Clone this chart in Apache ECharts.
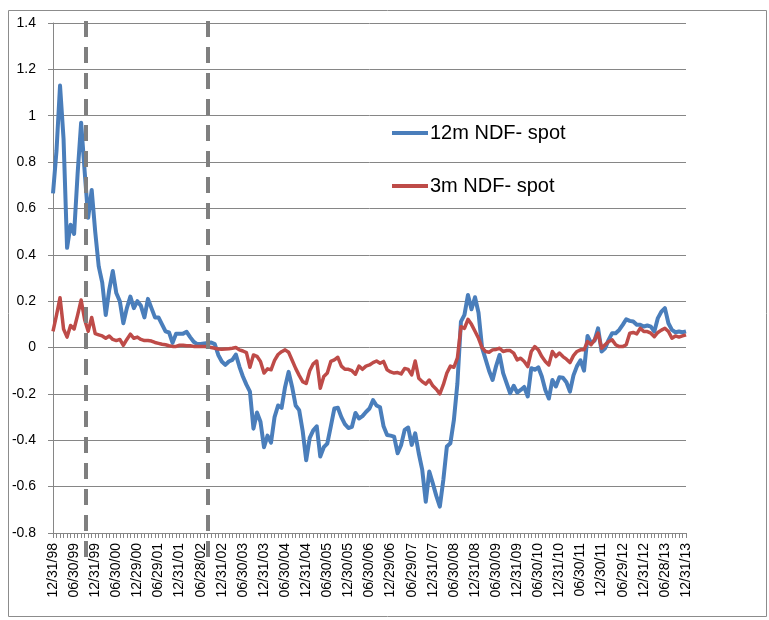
<!DOCTYPE html>
<html>
<head>
<meta charset="utf-8">
<script src="https://cdn.jsdelivr.net/npm/echarts@6/dist/echarts.min.js"></script>
<style>
  html, body { margin: 0; padding: 0; background: #fff; }
  #main { width: 769px; height: 620px; }
</style>
</head>
<body>
<div id="main"></div>
<script>
// labels shown on the x axis, one every 6 months
var tickLabels = ['12/31/98', '06/30/99', '12/31/99', '06/30/00', '12/29/00', '06/29/01', '12/31/01', '06/28/02',
  '12/31/02', '06/30/03', '12/31/03', '06/30/04', '12/31/04', '06/30/05', '12/30/05', '06/30/06', '12/29/06',
  '06/29/07', '12/31/07', '06/30/08', '12/31/08', '06/30/09', '12/31/09', '06/30/10', '12/31/10', '06/30/11',
  '12/30/11', '06/29/12', '12/31/12', '06/28/13', '12/31/13']

// 12m NDF - spot, monthly
var ndf12m = [
  0.665, 0.85, 1.13, 0.9, 0.43, 0.53, 0.49, 0.75, 0.97, 0.76,
  0.56, 0.68, 0.5, 0.35, 0.28, 0.14, 0.25, 0.33, 0.235, 0.2,
  0.105, 0.17, 0.22, 0.17, 0.2, 0.18, 0.13, 0.21, 0.17, 0.13,
  0.13, 0.1, 0.07, 0.065, 0.02, 0.06, 0.06, 0.06, 0.068, 0.045,
  0.025, 0.015, 0.015, 0.018, 0.02, 0.022, 0.015, -0.032, -0.06, -0.075,
  -0.06, -0.053, -0.03, -0.082, -0.125, -0.16, -0.19, -0.35, -0.28, -0.32,
  -0.43, -0.38, -0.41, -0.3, -0.25, -0.26, -0.17, -0.105, -0.17, -0.25,
  -0.27, -0.36, -0.486, -0.39, -0.357, -0.34, -0.47, -0.43, -0.414, -0.34,
  -0.263, -0.26, -0.3, -0.33, -0.347, -0.342, -0.282, -0.306, -0.296, -0.278,
  -0.263, -0.227, -0.25, -0.258, -0.34, -0.377, -0.38, -0.384, -0.456, -0.42,
  -0.355, -0.345, -0.42, -0.37, -0.456, -0.528, -0.665, -0.535, -0.586, -0.64,
  -0.686, -0.57, -0.427, -0.413, -0.312, -0.154, 0.112, 0.141, 0.227, 0.165,
  0.217, 0.15, 0.0, -0.05, -0.1, -0.14, -0.08, -0.032, -0.11, -0.154,
  -0.197, -0.165, -0.194, -0.183, -0.17, -0.211, -0.089, -0.096, -0.085, -0.125,
  -0.183, -0.22, -0.14, -0.168, -0.128, -0.13, -0.15, -0.19, -0.12, -0.08,
  -0.055, -0.1, 0.05, 0.019, 0.03, 0.083, -0.017, -0.003, 0.033, 0.062,
  0.062, 0.076, 0.098, 0.122, 0.115, 0.112, 0.098, 0.098, 0.091, 0.095,
  0.09, 0.069, 0.127, 0.155, 0.17, 0.105, 0.076, 0.066, 0.069, 0.066,
  0.07
]

// 3m NDF - spot, monthly
var ndf3m = [
  0.07, 0.14, 0.215, 0.08, 0.045, 0.095, 0.08, 0.14, 0.205, 0.12,
  0.07, 0.13, 0.06, 0.055, 0.05, 0.04, 0.05, 0.035, 0.03, 0.035,
  0.01, 0.035, 0.058, 0.04, 0.045, 0.035, 0.03, 0.03, 0.028, 0.022,
  0.018, 0.014, 0.012, 0.008, 0.005, 0.005, 0.01, 0.01, 0.008, 0.008,
  0.005, 0.004, 0.004, 0.004, 0.003, 0.0, -0.003, -0.006, -0.007, -0.006,
  -0.005, -0.003, 0.0, -0.01, -0.015, -0.022, -0.085, -0.032, -0.038, -0.06,
  -0.11, -0.092, -0.096, -0.055, -0.03, -0.018, -0.01, -0.02, -0.055, -0.09,
  -0.12, -0.147, -0.155, -0.1, -0.07, -0.058, -0.176, -0.125, -0.11, -0.06,
  -0.053, -0.042, -0.08, -0.094, -0.094, -0.1, -0.115, -0.08, -0.094, -0.08,
  -0.075, -0.065, -0.058, -0.068, -0.06, -0.096, -0.105, -0.11, -0.108, -0.114,
  -0.09, -0.094, -0.118, -0.058, -0.132, -0.147, -0.158, -0.14, -0.165, -0.18,
  -0.2, -0.16, -0.11, -0.08, -0.085, -0.045, 0.09, 0.083, 0.122, 0.1,
  0.07, 0.04, 0.0, -0.017, -0.02, -0.01, -0.008, -0.003, -0.017, -0.013,
  -0.013, -0.024, -0.053, -0.046, -0.06, -0.082, -0.017, 0.004, -0.01, -0.039,
  -0.06, -0.075, -0.017, -0.039, -0.024, -0.039, -0.05, -0.065, -0.035, -0.017,
  -0.01, -0.01, 0.026, 0.012, 0.033, 0.062, -0.003, 0.012, 0.026, 0.033,
  0.012, 0.004, 0.004, 0.012, 0.062, 0.065, 0.059, 0.083, 0.069, 0.069,
  0.062, 0.047, 0.065, 0.075, 0.083, 0.069, 0.04, 0.05, 0.045, 0.05,
  0.055
]

// dashed markers, given as (fractional) month index
var breaks = [9.5, 44]

// month-end dates 12/98 .. 12/13, the labelled ones taken from tickLabels
var dates = []
for (var i = 0; i < ndf12m.length; i++) {
  if (i % 6 === 0) {
    dates.push(tickLabels[i / 6])
  } else {
    var m = (11 + i) % 12
    var y = 1998 + Math.floor((11 + i) / 12)
    var d = new Date(y, m + 1, 0).getDate()
    dates.push(('0' + (m + 1)).slice(-2) + '/' + d + '/' + String(y).slice(-2))
  }
}

var gray = '#868686'
var font = 'Liberation Sans'
var chart = echarts.init(document.getElementById('main'))

chart.setOption({
  animation: false,
  grid: { left: 53, right: 83, top: 23, bottom: 87 },
  legend: {
    orient: 'vertical',
    left: 387,
    top: 118,
    itemWidth: 36,
    itemHeight: 20,
    itemGap: 33,
    icon: 'path://M0,8 L36,8 L36,12 L0,12 Z',
    textStyle: { fontFamily: font, fontSize: 20, color: '#000', padding: [0, 0, 0, -3] },
    data: ['12m NDF- spot', '3m NDF- spot']
  },
  xAxis: {
    type: 'category',
    boundaryGap: false,
    data: dates,
    axisLine: { onZero: false, lineStyle: { color: gray, width: 1 } },
    axisTick: { show: true, interval: 0, length: 5, lineStyle: { color: gray } },
    axisLabel: {
      interval: 5,
      rotate: 90,
      margin: 10,
      fontFamily: font,
      fontSize: 14,
      color: '#000'
    },
    splitLine: { show: false }
  },
  yAxis: {
    type: 'value',
    min: -0.8,
    max: 1.4,
    interval: 0.2,
    axisLine: { show: true, lineStyle: { color: gray } },
    axisTick: { show: true, length: 5, lineStyle: { color: gray } },
    axisLabel: {
      margin: 17,
      fontFamily: font,
      fontSize: 14,
      color: '#000',
      formatter: function (v) { return String(+v.toFixed(1)) }
    },
    splitLine: { show: true, lineStyle: { color: gray, width: 1 } }
  },
  series: [
    {
      name: '12m NDF- spot',
      type: 'line',
      data: ndf12m,
      symbol: 'none',
      color: '#4A7EBB',
      lineStyle: { color: '#4A7EBB', width: 4, join: 'round' }
    },
    {
      name: '3m NDF- spot',
      type: 'line',
      data: ndf3m,
      symbol: 'none',
      color: '#BE4B48',
      lineStyle: { color: '#BE4B48', width: 3.5, join: 'round' }
    }
  ]
})

// dashed vertical markers, placed from the axis scales
function xAt (idx) {
  var a = Math.floor(idx)
  var b = Math.ceil(idx)
  var pa = chart.convertToPixel({ xAxisIndex: 0 }, dates[a])
  var pb = chart.convertToPixel({ xAxisIndex: 0 }, dates[b])
  return pa + (pb - pa) * (idx - a)
}
var yTop = chart.convertToPixel({ yAxisIndex: 0 }, 1.4) - 2
var yBottom = chart.convertToPixel({ yAxisIndex: 0 }, -0.8) + 25

var graphics = [{
  type: 'rect',
  silent: true,
  shape: { x: 8.5, y: 10.5, width: 758, height: 606 },
  style: { fill: 'none', stroke: '#8c8c8c', lineWidth: 1 }
}]
breaks.forEach(function (b) {
  var x = Math.round(xAt(b))
  graphics.push({
    type: 'line',
    silent: true,
    z: 10,
    shape: { x1: x, y1: yTop, x2: x, y2: yBottom },
    style: { stroke: '#7f7f7f', lineWidth: 4, lineDash: [16, 10] }
  })
})
chart.setOption({ graphic: graphics })
</script>
</body>
</html>
